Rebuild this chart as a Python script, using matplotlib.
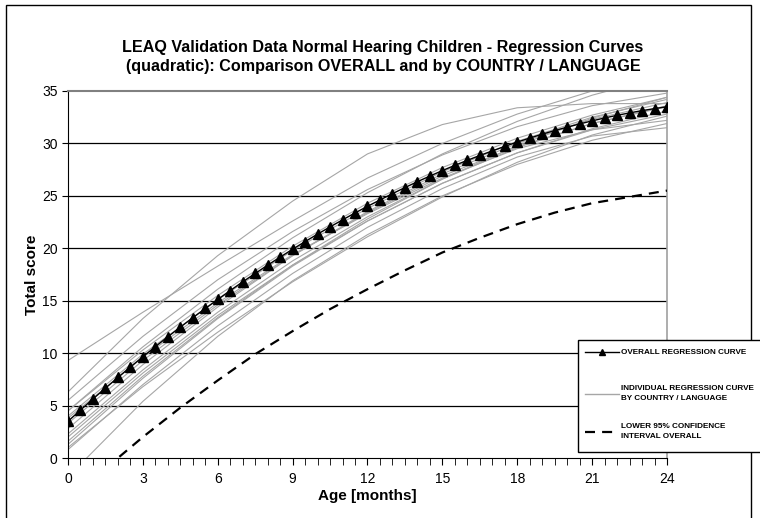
import numpy as np
import matplotlib
matplotlib.use("Agg")
from matplotlib import pyplot as plt
from matplotlib.patches import Rectangle
from matplotlib.lines import Line2D

# ---- data ----
age = [0, 0.5, 1, 1.5, 2, 2.5, 3, 3.5, 4, 4.5, 5, 5.5, 6, 6.5, 7, 7.5, 8, 8.5,
       9, 9.5, 10, 10.5, 11, 11.5, 12, 12.5, 13, 13.5, 14, 14.5, 15, 15.5, 16,
       16.5, 17, 17.5, 18, 18.5, 19, 19.5, 20, 20.5, 21, 21.5, 22, 22.5, 23,
       23.5, 24]
overall = [3.50, 4.57, 5.63, 6.66, 7.68, 8.68, 9.66, 10.62, 11.56, 12.48, 13.38,
           14.26, 15.12, 15.97, 16.80, 17.60, 18.39, 19.16, 19.91, 20.64, 21.35,
           22.04, 22.71, 23.37, 24.00, 24.61, 25.21, 25.79, 26.35, 26.89, 27.41,
           27.91, 28.39, 28.85, 29.29, 29.72, 30.13, 30.51, 30.88, 31.23, 31.55,
           31.86, 32.15, 32.43, 32.68, 32.91, 33.13, 33.32, 33.50]

age_ci = [0, 1.5, 3, 4.5, 6, 7.5, 9, 10.5, 12, 13.5, 15, 16.5, 18, 19.5, 21, 22.5, 24]
lower_ci = [-4.2, -1.0, 2.0, 4.8, 7.4, 9.9, 12.1, 14.2, 16.1, 17.9, 19.6,
            21.0, 22.3, 23.4, 24.3, 24.9, 25.5]

age_ind = [0, 3, 6, 9, 12, 15, 18, 21, 24]
individual = [
    [9.3, 13.9, 18.3, 22.6, 26.7, 30.0, 32.8, 35.0, 37.0],
    [6.3, 13.3, 19.3, 24.5, 29.0, 31.8, 33.4, 33.8, 33.8],
    [5.5, 11.6, 17.0, 21.6, 25.6, 28.9, 31.6, 33.6, 34.8],
    [4.5, 10.6, 16.1, 21.0, 25.3, 29.0, 32.1, 34.6, 36.5],
    [4.5, 10.3, 15.5, 20.2, 24.3, 27.7, 30.5, 32.7, 34.4],
    [4.0, 9.9, 15.1, 19.8, 23.8, 27.3, 30.2, 32.5, 34.2],
    [3.8, 9.6, 14.8, 19.4, 23.3, 26.7, 29.5, 31.3, 32.2],
    [3.3, 9.3, 14.6, 19.3, 23.4, 26.9, 29.7, 31.9, 33.5],
    [2.8, 8.9, 14.4, 19.3, 23.5, 27.1, 30.0, 32.3, 33.9],
    [2.3, 8.4, 13.9, 18.8, 23.0, 26.6, 29.6, 31.9, 33.6],
    [2.0, 8.1, 13.6, 18.4, 22.6, 26.2, 29.1, 31.4, 33.1],
    [1.6, 7.8, 13.4, 18.4, 22.8, 26.6, 29.8, 32.4, 34.4],
    [1.3, 7.6, 13.3, 18.3, 22.6, 26.2, 29.1, 31.3, 32.8],
    [0.8, 7.0, 12.6, 17.6, 22.0, 25.7, 28.7, 30.7, 31.5],
    [-1.8, 5.4, 11.6, 16.9, 21.3, 25.0, 28.0, 30.3, 31.9],
    [1.0, 6.8, 12.0, 16.8, 21.1, 24.9, 28.2, 30.8, 32.6],
]

title = ("LEAQ Validation Data Normal Hearing Children - Regression Curves\n"
         "(quadratic): Comparison OVERALL and by COUNTRY / LANGUAGE")

legend_labels = ['OVERALL REGRESSION CURVE',
                 'INDIVIDUAL REGRESSION CURVE\nBY COUNTRY / LANGUAGE',
                 'LOWER 95% CONFIDENCE\nINTERVAL OVERALL']

# ---- style ----
plt.rcParams['font.family'] = ['Liberation Sans', 'DejaVu Sans']
W, H = 760.0, 518.0

fig = plt.figure(figsize=(7.6, 5.18), dpi=100)
ax = fig.add_axes([68 / W, 1 - 458 / H, 599 / W, 367 / H])

# outer chart border
fig.patches.append(Rectangle((6 / W, -0.05), 745 / W, 1.05 - 5 / H,
                             transform=fig.transFigure, fill=False,
                             edgecolor='black', lw=1.0, zorder=0))

for yv in range(5, 35, 5):
    ax.axhline(yv, color='black', lw=0.9, zorder=1)

for vals in individual:
    ax.plot(age_ind, vals, color='#a6a6a6', lw=0.8, zorder=2)

ax.plot(age_ci, lower_ci, color='black', lw=1.6, dashes=(4.5, 3.2), zorder=3)
ax.plot(age, overall, color='black', lw=1.0, marker='^', markersize=7.5, zorder=4)

ax.set_xlim(0, 24)
ax.set_ylim(0, 35)
ax.set_xticks(range(0, 25, 3))
ax.set_xticks(np.arange(0, 24.01, 0.5), minor=True)
ax.set_yticks(range(0, 36, 5))
ax.tick_params(axis='both', which='both', direction='out', labelsize=10)
ax.tick_params(axis='x', which='major', length=5, pad=5)
ax.tick_params(axis='x', which='minor', length=5)
ax.tick_params(axis='y', which='major', length=4)

ax.spines['top'].set_color('#808080')
ax.spines['top'].set_linewidth(1.5)
ax.spines['right'].set_color('#a0a0a0')
ax.spines['right'].set_linewidth(1.2)

ax.set_xlabel('Age [months]', fontsize=11, fontweight='bold', labelpad=2)
ax.set_ylabel('Total score', fontsize=11, fontweight='bold', labelpad=2)
fig.text(0.504, 1 - 57 / H, title, ha='center', va='center', fontsize=11.6,
         fontweight='bold', linespacing=1.35)

# legend box drawn by hand so the spacing matches
fig.patches.append(Rectangle((578 / W, 1 - 452 / H), 200 / W, 112 / H,
                             transform=fig.transFigure, facecolor='white',
                             edgecolor='black', lw=1.0, zorder=5))
leg_y = [352, 394, 432]
samples = [dict(color='black', lw=1.0, marker='^', markersize=5, markevery=[1]),
           dict(color='#a6a6a6', lw=1.0),
           dict(color='black', lw=1.6, dashes=(4.5, 3.2))]
for yy, kw, lab in zip(leg_y, samples, legend_labels):
    fig.add_artist(Line2D([585 / W, 602 / W, 619 / W], [1 - yy / H] * 3,
                          transform=fig.transFigure, zorder=6, **kw))
    fig.text(621 / W, 1 - yy / H, lab, ha='left', va='center', fontsize=5.9,
             fontweight='bold', linespacing=1.6, zorder=6)

fig.savefig('out.png', dpi=100)
